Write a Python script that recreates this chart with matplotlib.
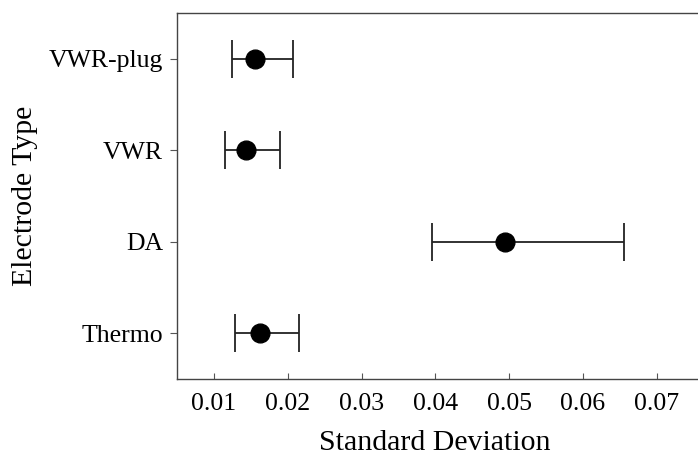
import numpy as np
import matplotlib
matplotlib.use("Agg")
import matplotlib.pyplot as plt

plt.rcParams['font.family'] = ['Liberation Serif', 'DejaVu Serif']

electrodes = ['Thermo', 'DA', 'VWR', 'VWR-plug']
sd_mean = [0.0162, 0.0495, 0.0143, 0.0156]
sd_low = [0.0129, 0.0395, 0.0115, 0.0124]
sd_high = [0.0215, 0.0656, 0.0190, 0.0207]

mean = np.array(sd_mean)
xerr = [mean - np.array(sd_low), np.array(sd_high) - mean]
ypos = np.arange(len(electrodes))

fig = plt.figure(figsize=(6.98, 4.66), dpi=100)
ax = fig.add_axes([0.2536, 0.1867, 0.793, 0.7853])

ax.errorbar(mean, ypos, xerr=xerr, fmt='o', color='black', ecolor='#222222',
            markersize=13.5, elinewidth=1.3, capsize=13.5, capthick=1.3)

ax.set_xlim(0.005, 0.08)
ax.set_ylim(-0.5, 3.5)
ax.set_xticks([0.01, 0.02, 0.03, 0.04, 0.05, 0.06, 0.07])
ax.set_xticklabels(['0.01', '0.02', '0.03', '0.04', '0.05', '0.06', '0.07'])
ax.set_yticks(ypos)
ax.set_yticklabels(electrodes)

ax.tick_params(axis='x', direction='in', length=4, width=0.8, color='#555555',
               labelsize=18.5, pad=10)
ax.tick_params(axis='y', direction='out', length=5, width=0.8, color='#555555',
               labelsize=18.5, pad=5)
for s in ax.spines.values():
    s.set_color('#444444')
    s.set_linewidth(1.0)

ax.set_xlabel('Standard Deviation', fontsize=21.5)
ax.xaxis.set_label_coords(0.466, -0.14)
ax.set_ylabel('Electrode Type', fontsize=21.5, labelpad=8)

fig.savefig('out.png', dpi=100)
